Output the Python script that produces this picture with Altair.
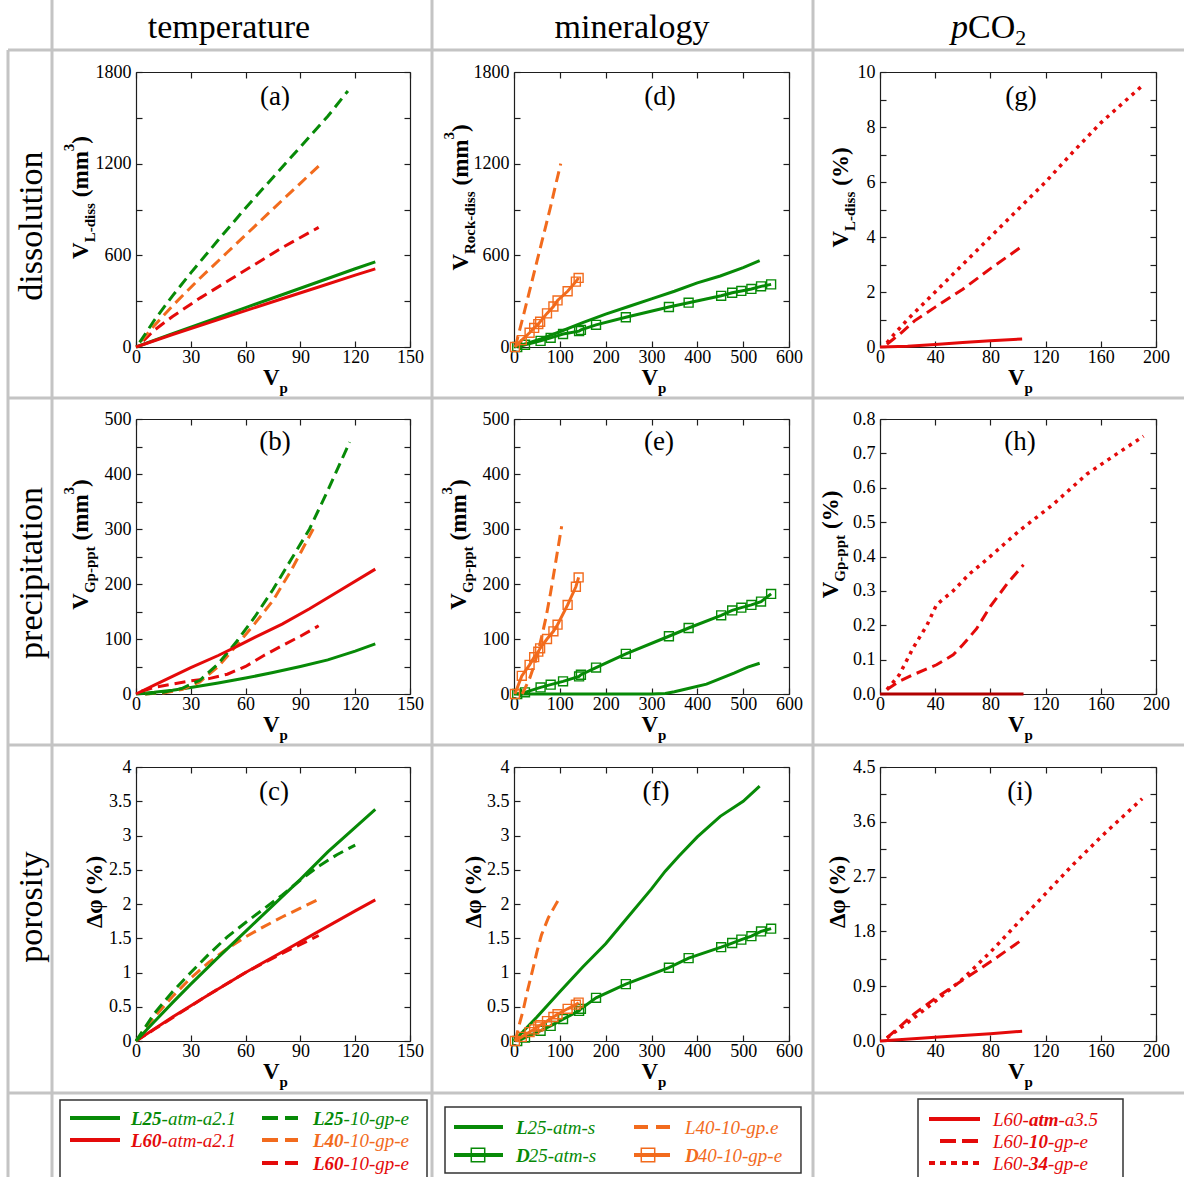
import altair as alt
import pandas as pd

W, H = 1184, 1177
FONT = "Liberation Serif"
GREEN = "#078a07"
ORANGE = "#f26b1d"
RED = "#e40a0a"
GRID = "#c4c4c4"
FRAME = "#1e1e1e"

# ---------------- data: temperature column ----------------
A_L25ATM_X = [0, 20, 40, 60, 80, 100, 120, 131]
A_L25ATM_Y = [0, 88, 173, 258, 342, 427, 512, 557]
A_L60ATM_X = [0, 20, 40, 60, 80, 100, 120, 131]
A_L60ATM_Y = [0, 82, 160, 238, 316, 393, 470, 511]
A_L25GP_X = [2, 10, 20, 30, 45, 60, 75, 90, 105, 116]
A_L25GP_Y = [30, 175, 335, 485, 700, 910, 1110, 1310, 1510, 1676]
A_L40GP_X = [3, 10, 20, 35, 50, 65, 80, 100]
A_L40GP_Y = [40, 140, 270, 450, 620, 790, 960, 1184]
A_L60GP_X = [4, 10, 20, 35, 50, 65, 80, 100]
A_L60GP_Y = [40, 110, 200, 320, 430, 540, 650, 783]

B_L25ATM_X = [0, 10, 20, 30, 45, 60, 75, 90, 105, 120, 131]
B_L25ATM_Y = [0, 3, 7, 12, 20, 29, 39, 50, 62, 78, 91]
B_L60ATM_X = [0, 10, 20, 30, 45, 55, 65, 80, 95, 110, 131]
B_L60ATM_Y = [0, 16, 32, 48, 70, 86, 103, 127, 155, 185, 227]
B_L25GP_X = [5, 15, 25, 35, 45, 55, 65, 75, 85, 95, 105, 117]
B_L25GP_Y = [0, 3, 10, 25, 55, 95, 140, 190, 245, 300, 370, 458]
B_L40GP_X = [5, 15, 25, 35, 45, 55, 65, 75, 85, 97]
B_L40GP_Y = [0, 2, 8, 22, 50, 88, 128, 170, 225, 300]
B_L60GP_X = [3, 10, 20, 30, 40, 50, 60, 70, 80, 90, 100]
B_L60GP_Y = [5, 12, 18, 24, 28, 36, 50, 70, 88, 105, 124]

C_L25ATM_X = [0, 10, 20, 30, 45, 60, 75, 90, 105, 120, 131]
C_L25ATM_Y = [0, 0.28, 0.56, 0.83, 1.22, 1.6, 1.98, 2.36, 2.76, 3.12, 3.38]
C_L60ATM_X = [0, 20, 40, 60, 80, 100, 120, 131]
C_L60ATM_Y = [0, 0.35, 0.68, 1.0, 1.3, 1.6, 1.9, 2.06]
C_L25GP_X = [0, 5, 10, 20, 30, 40, 50, 60, 70, 80, 90, 100, 110, 120]
C_L25GP_Y = [0, 0.2, 0.4, 0.72, 1.0, 1.27, 1.52, 1.73, 1.93, 2.13, 2.35, 2.55, 2.72, 2.86]
C_L40GP_X = [0, 5, 10, 20, 30, 40, 50, 60, 70, 80, 90, 100]
C_L40GP_Y = [0, 0.18, 0.35, 0.65, 0.92, 1.15, 1.35, 1.52, 1.67, 1.81, 1.94, 2.07]
C_L60GP_X = [0, 10, 20, 40, 60, 80, 100]
C_L60GP_Y = [0, 0.17, 0.34, 0.68, 1.0, 1.28, 1.54]

# ---------------- data: mineralogy column ----------------
D25_X = [7, 24, 58, 80, 107, 142, 146, 179, 244, 338, 381, 452, 476, 496, 518, 539, 561]
D40_X = [2, 17, 34, 44, 53, 57, 72, 86, 95, 117, 135, 141]
D_D25_Y = [0, 15, 40, 60, 85, 104, 112, 145, 195, 262, 290, 335, 355, 367, 380, 397, 410]
D_D40_Y = [0, 45, 93, 125, 150, 165, 220, 265, 305, 365, 428, 452]
D_L25_X = [0, 30, 60, 100, 150, 200, 250, 300, 350, 400, 450, 500, 536]
D_L25_Y = [0, 25, 55, 100, 160, 215, 265, 315, 365, 420, 465, 520, 565]
D_L40_X = [3, 10, 20, 30, 40, 50, 60, 70, 80, 90, 102]
D_L40_Y = [0, 85, 200, 320, 440, 560, 680, 800, 920, 1050, 1200]

E_D25_Y = [0, 3, 12, 17, 23, 32, 35, 48, 73, 105, 120, 143, 152, 157, 162, 168, 182]
E_D40_Y = [0, 33, 53, 67, 77, 83, 100, 114, 126, 162, 195, 212]
E_L25_X = [0, 100, 200, 300, 330, 350, 380, 420, 450, 480, 510, 536]
E_L25_Y = [0, 0, 0, 0, 1, 4, 10, 18, 28, 38, 49, 56]
E_L40_X = [18, 25, 35, 45, 55, 62, 70, 80, 90, 97, 104]
E_L40_Y = [0, 12, 30, 55, 85, 110, 140, 185, 235, 270, 305]

F_D25_Y = [0, 0.05, 0.15, 0.22, 0.32, 0.44, 0.47, 0.63, 0.83, 1.07, 1.21, 1.37, 1.43, 1.48, 1.53, 1.6, 1.64]
F_D40_Y = [0, 0.06, 0.13, 0.17, 0.21, 0.23, 0.29, 0.35, 0.39, 0.47, 0.53, 0.56]
F_L25_X = [0, 50, 100, 150, 200, 250, 300, 330, 360, 400, 450, 500, 536]
F_L25_Y = [0, 0.35, 0.72, 1.08, 1.42, 1.82, 2.22, 2.48, 2.7, 2.98, 3.28, 3.5, 3.72]
F_L40_X = [3, 10, 20, 30, 40, 50, 60, 75, 90, 102]
F_L40_Y = [0, 0.2, 0.45, 0.75, 1.02, 1.3, 1.55, 1.8, 1.98, 2.12]

# ---------------- data: pCO2 column ----------------
G_ATM_X = [0, 20, 40, 60, 80, 103]
G_ATM_Y = [0, 0.03, 0.09, 0.16, 0.23, 0.29]
G_10_X = [5, 10, 15, 25, 40, 60, 80, 104]
G_10_Y = [0.1, 0.3, 0.5, 0.95, 1.45, 2.1, 2.85, 3.7]
G_34_X = [5, 10, 20, 30, 40, 60, 80, 100, 120, 140, 160, 190]
G_34_Y = [0.15, 0.45, 1.0, 1.5, 2.0, 3.0, 4.0, 5.0, 6.0, 7.1, 8.15, 9.5]

H_ATM_X = [0, 50, 104]
H_ATM_Y = [0, 0, 0]
H_10_X = [5, 14, 24, 41, 53, 60, 70, 80, 92, 104]
H_10_Y = [0.013, 0.037, 0.056, 0.085, 0.114, 0.143, 0.19, 0.255, 0.32, 0.376]
H_34_X = [5, 14, 24, 34, 41, 53, 65, 77, 101, 125, 150, 174, 191]
H_34_Y = [0.013, 0.056, 0.134, 0.2, 0.26, 0.3, 0.35, 0.39, 0.475, 0.55, 0.64, 0.705, 0.75]

I_ATM_X = [0, 40, 80, 103]
I_ATM_Y = [0, 0.06, 0.12, 0.16]
I_10_X = [5, 15, 25, 40, 60, 80, 104]
I_10_Y = [0.05, 0.25, 0.45, 0.7, 1.0, 1.3, 1.68]
I_34_X = [5, 20, 40, 60, 80, 100, 120, 140, 160, 190]
I_34_Y = [0.05, 0.3, 0.65, 1.02, 1.46, 1.94, 2.42, 2.9, 3.35, 3.98]

# ---------------- axis tick values ----------------
X150 = [0, 30, 60, 90, 120, 150]
X600 = [0, 100, 200, 300, 400, 500, 600]
X200 = [0, 40, 80, 120, 160, 200]
Y1800_LAB = [0, 600, 1200, 1800]
Y1800_TK = [0, 300, 600, 900, 1200, 1500, 1800]
Y500_LAB = [0, 100, 200, 300, 400, 500]
Y500_TK = [0, 50, 100, 150, 200, 250, 300, 350, 400, 450, 500]
Y4 = [0, 0.5, 1, 1.5, 2, 2.5, 3, 3.5, 4]
Y10_LAB = [0, 2, 4, 6, 8, 10]
Y10_TK = [0, 1, 2, 3, 4, 5, 6, 7, 8, 9, 10]
Y08 = [0, 0.1, 0.2, 0.3, 0.4, 0.5, 0.6, 0.7, 0.8]
Y45_LAB = [0, 0.9, 1.8, 2.7, 3.6, 4.5]
Y45_TK = [0, 0.45, 0.9, 1.35, 1.8, 2.25, 2.7, 3.15, 3.6, 4.05, 4.5]

HEADERS = ["temperature", "mineralogy"]
ROW_LABELS = ["dissolution", "precipitation", "porosity"]

PANELS = [
    dict(key="a", col=1, row=1, xdom=[0, 150], ydom=[0, 1800], xlab=X150, xtk=X150, ylab=Y1800_LAB, ytk=Y1800_TK, yfmt=None,
         series=[(A_L25ATM_X, A_L25ATM_Y, GREEN, "solid", False), (A_L60ATM_X, A_L60ATM_Y, RED, "solid", False),
                 (A_L60GP_X, A_L60GP_Y, RED, "dash", False), (A_L40GP_X, A_L40GP_Y, ORANGE, "dash", False),
                 (A_L25GP_X, A_L25GP_Y, GREEN, "dash", False)]),
    dict(key="b", col=1, row=2, xdom=[0, 150], ydom=[0, 500], xlab=X150, xtk=X150, ylab=Y500_LAB, ytk=Y500_TK, yfmt=None,
         series=[(B_L25ATM_X, B_L25ATM_Y, GREEN, "solid", False), (B_L60GP_X, B_L60GP_Y, RED, "dash", False),
                 (B_L40GP_X, B_L40GP_Y, ORANGE, "dash", False), (B_L25GP_X, B_L25GP_Y, GREEN, "dash", False),
                 (B_L60ATM_X, B_L60ATM_Y, RED, "solid", False)]),
    dict(key="c", col=1, row=3, xdom=[0, 150], ydom=[0, 4], xlab=X150, xtk=X150, ylab=Y4, ytk=Y4, yfmt=None,
         series=[(C_L60ATM_X, C_L60ATM_Y, RED, "solid", False), (C_L60GP_X, C_L60GP_Y, RED, "dash", False),
                 (C_L40GP_X, C_L40GP_Y, ORANGE, "dash", False), (C_L25GP_X, C_L25GP_Y, GREEN, "dash", False),
                 (C_L25ATM_X, C_L25ATM_Y, GREEN, "solid", False)]),
    dict(key="d", col=2, row=1, xdom=[0, 600], ydom=[0, 1800], xlab=X600, xtk=X600, ylab=Y1800_LAB, ytk=Y1800_TK, yfmt=None,
         series=[(D_L25_X, D_L25_Y, GREEN, "solid", False), (D25_X, D_D25_Y, GREEN, "solid", True),
                 (D_L40_X, D_L40_Y, ORANGE, "dash", False), (D40_X, D_D40_Y, ORANGE, "solid", True)]),
    dict(key="e", col=2, row=2, xdom=[0, 600], ydom=[0, 500], xlab=X600, xtk=X600, ylab=Y500_LAB, ytk=Y500_TK, yfmt=None,
         series=[(E_L25_X, E_L25_Y, GREEN, "solid", False), (D25_X, E_D25_Y, GREEN, "solid", True),
                 (E_L40_X, E_L40_Y, ORANGE, "dash", False), (D40_X, E_D40_Y, ORANGE, "solid", True)]),
    dict(key="f", col=2, row=3, xdom=[0, 600], ydom=[0, 4], xlab=X600, xtk=X600, ylab=Y4, ytk=Y4, yfmt=None,
         series=[(F_L25_X, F_L25_Y, GREEN, "solid", False), (D25_X, F_D25_Y, GREEN, "solid", True),
                 (F_L40_X, F_L40_Y, ORANGE, "dash", False), (D40_X, F_D40_Y, ORANGE, "solid", True)]),
    dict(key="g", col=3, row=1, xdom=[0, 200], ydom=[0, 10], xlab=X200, xtk=X200, ylab=Y10_LAB, ytk=Y10_TK, yfmt=None,
         series=[(G_ATM_X, G_ATM_Y, RED, "solid", False), (G_10_X, G_10_Y, RED, "dash", False),
                 (G_34_X, G_34_Y, RED, "dot", False)]),
    dict(key="h", col=3, row=2, xdom=[0, 200], ydom=[0, 0.8], xlab=X200, xtk=X200, ylab=Y08, ytk=Y08, yfmt=".1f",
         series=[(H_ATM_X, H_ATM_Y, "#b00000", "solid", False), (H_10_X, H_10_Y, RED, "dash", False),
                 (H_34_X, H_34_Y, RED, "dot", False)]),
    dict(key="i", col=3, row=3, xdom=[0, 200], ydom=[0, 4.5], xlab=X200, xtk=X200, ylab=Y45_LAB, ytk=Y45_TK, yfmt=".1f",
         series=[(I_ATM_X, I_ATM_Y, RED, "solid", False), (I_10_X, I_10_Y, RED, "dash", False),
                 (I_34_X, I_34_Y, RED, "dot", False)]),
]

# ---------------- layout ----------------
COLS = {1: (136, 410), 2: (514, 789), 3: (880, 1156)}
ROWS = {1: (347, 72), 2: (694, 419), 3: (1041, 767)}

PX = alt.Scale(domain=[0, W], range=[0, W], nice=False, zero=False)
PY = alt.Scale(domain=[0, H], range=[0, H], nice=False, zero=False)


def sx(p):
    return alt.Scale(domain=p["xdom"], range=list(COLS[p["col"]]), nice=False, zero=False)


def sy(p):
    return alt.Scale(domain=p["ydom"], range=list(ROWS[p["row"]]), nice=False, zero=False)


AX = dict(grid=False, title=None, labelFont=FONT, labelFontSize=18, labelColor="black",
          domainColor=FRAME, domainWidth=1.2, tickColor=FRAME, tickWidth=1.2,
          labelFlush=False, labelOverlap=False)
PLAIN = "'' + datum.value"


def fmt(f):
    return dict(format=f) if f else dict(labelExpr=PLAIN)


def carriers(p):
    x0, x1 = COLS[p["col"]]
    yb, yt = ROWS[p["row"]]
    df = pd.DataFrame({"x": [p["xdom"][0]], "y": [p["ydom"][0]]})
    base = alt.Chart(df).mark_point(opacity=0)
    lab = base.encode(
        x=alt.X("x:Q", scale=sx(p), axis=alt.Axis(orient="bottom", offset=yb - H, values=p["xlab"], ticks=False,
                                                   tickSize=0, labelPadding=1, **fmt(None), **AX)),
        y=alt.Y("y:Q", scale=sy(p), axis=alt.Axis(orient="left", offset=-x0, values=p["ylab"], ticks=False,
                                                   tickSize=0, labelPadding=5, **fmt(p["yfmt"]), **AX)))
    tin = base.encode(
        x=alt.X("x:Q", scale=sx(p), axis=alt.Axis(orient="top", offset=-yb, values=p["xtk"], labels=False,
                                                   domain=False, tickSize=6, **AX)),
        y=alt.Y("y:Q", scale=sy(p), axis=alt.Axis(orient="right", offset=x0 - W, values=p["ytk"], labels=False,
                                                   domain=False, tickSize=6, **AX)))
    tout = base.encode(
        x=alt.X("x:Q", scale=sx(p), axis=alt.Axis(orient="bottom", offset=yt - H, values=p["xtk"], labels=False,
                                                   tickSize=6, **AX)),
        y=alt.Y("y:Q", scale=sy(p), axis=alt.Axis(orient="left", offset=-x1, values=p["ytk"], labels=False,
                                                   tickSize=6, **AX)))
    return [lab, tin, tout]


DASH = {"solid": None, "dash": [11, 6], "dot": [3.5, 5]}


def series_layers(p, xs, ys, color, style, markers):
    df = pd.DataFrame({"x": xs, "y": ys})
    enc = dict(x=alt.X("x:Q", scale=sx(p), axis=None), y=alt.Y("y:Q", scale=sy(p), axis=None))
    kw = dict(color=color, strokeWidth=3.5 if style == "dot" else 3)
    if DASH[style]:
        kw["strokeDash"] = DASH[style]
    out = [alt.Chart(df).mark_line(**kw).encode(**enc)]
    if markers:
        out.append(alt.Chart(df).mark_point(shape="square", filled=False, size=80, strokeWidth=1.4,
                                            color=color, opacity=1).encode(**enc))
    return out


# ---------------- text helpers ----------------
WR = {' ': 250, '(': 333, ')': 333, '-': 333, '.': 250, '%': 833, 'a': 444, 'c': 444, 'd': 500, 'e': 444,
      'g': 500, 'i': 278, 'l': 278, 'm': 778, 'n': 500, 'o': 500, 'p': 500, 'r': 333, 's': 389, 't': 278,
      'u': 500, 'y': 500, 'C': 667, 'O': 722, 'L': 611, 'D': 722, 'V': 722}
WI = {' ': 250, '-': 333, '.': 250, 'a': 500, 't': 278, 'm': 722, 'g': 500, 'p': 500, 'e': 444, 's': 389,
      'L': 556, 'D': 722}
WB = {' ': 250, '(': 333, ')': 333, '-': 333, '%': 1000, 'V': 722, 'L': 667, 'R': 722, 'G': 778, 'd': 556,
      'i': 278, 's': 389, 'o': 500, 'c': 444, 'k': 556, 'p': 556, 't': 333, 'm': 833, 'Δ': 612, 'φ': 600}
WBI = {'L': 611, 'D': 667, 'a': 500, 't': 278, 'm': 778, '-': 333}
TABLES = {"R": WR, "I": WI, "B": WB, "BI": WBI}


def tw(s, st, sz):
    tab = TABLES[st]
    return sum(tab.get(ch, 500) for ch in s) * sz / 1000.0


TEXTS = []


def put(x, y, t, st="R", sz=18, color="black", angle=0, align="left", base="alphabetic"):
    TEXTS.append(dict(x=x, y=y, t=t, c=color, st=st, sz=sz, angle=angle, align=align, base=base))


def rich_h(x, y, segs, color="black"):
    for t, st, sz, dy in segs:
        put(x, y + dy, t, st, sz, color)
        x += tw(t, st, sz)


def rich_v_len(segs):
    return sum(tw(t, st, sz) + gap for t, st, sz, dx, gap in segs)


def rich_v(bx, ystart, segs, color="black"):
    y = ystart
    for t, st, sz, dx, gap in segs:
        y -= gap
        put(bx + dx, y, t, st, sz, color, angle=270)
        y -= tw(t, st, sz)


def mm3(sub):
    return [("V", "B", 23, 0, 0), (sub, "B", 15, 7, 0), ("(mm", "B", 23, 0, 6), ("3", "B", 15, -14, 0),
            (")", "B", 23, 0, 0)]


def pct(sub):
    return [("V", "B", 23, 0, 0), (sub, "B", 15, 7, 0), ("(%)", "B", 23, 0, 6)]


DPHI = [("Δφ", "B", 23, 0, 0), ("(%)", "B", 23, 0, 6)]

YTITLES = {"a": (88, mm3("L-diss")), "b": (88, mm3("Gp-ppt")), "c": (102, DPHI),
           "d": (468, mm3("Rock-diss")), "e": (466, mm3("Gp-ppt")), "f": (481, DPHI),
           "g": (848, pct("L-diss")), "h": (838, pct("Gp-ppt")), "i": (845, DPHI)}
LETTER_X = {"a": 275, "b": 275, "c": 274, "d": 660, "e": 659, "f": 656, "g": 1021, "h": 1020, "i": 1020}
LETTER_Y = {1: 105, 2: 450, 3: 800}

# header and row labels
put(229, 38, HEADERS[0], "R", 34, align="center")
put(632, 38, HEADERS[1], "R", 34, align="center")
rich_h(951, 38, [("p", "I", 34, 0), ("CO", "R", 34, 0), ("2", "R", 22, 7)])
for lab, cy in zip(ROW_LABELS, [226, 573, 907]):
    put(42, cy, lab, "R", 34, angle=270, align="center")

for p in PANELS:
    x0, x1 = COLS[p["col"]]
    yb, yt = ROWS[p["row"]]
    cx = (x0 + x1) / 2
    rich_h(cx - 10, yb + 38, [("V", "B", 23, 0), ("p", "B", 15, 8)])
    bx, segs = YTITLES[p["key"]]
    L = rich_v_len(segs)
    rich_v(bx, (yb + yt) / 2 + L / 2 - 12, segs)
    put(LETTER_X[p["key"]], LETTER_Y[p["row"]], "(" + p["key"] + ")", "R", 27, align="center")

# legends text
LEG = 19
rich_h(131, 1125, [("L25", "BI", LEG, 0), ("-atm-a2.1", "I", LEG, 0)], GREEN)
rich_h(131, 1147, [("L60", "BI", LEG, 0), ("-atm-a2.1", "I", LEG, 0)], RED)
rich_h(313, 1125, [("L25", "BI", LEG, 0), ("-10-gp-e", "I", LEG, 0)], GREEN)
rich_h(313, 1147, [("L40", "BI", LEG, 0), ("-10-gp-e", "I", LEG, 0)], ORANGE)
rich_h(313, 1170, [("L60", "BI", LEG, 0), ("-10-gp-e", "I", LEG, 0)], RED)
rich_h(516, 1134, [("L", "BI", LEG, 0), ("25-atm-s", "I", LEG, 0)], GREEN)
rich_h(516, 1162, [("D", "BI", LEG, 0), ("25-atm-s", "I", LEG, 0)], GREEN)
rich_h(685, 1134, [("L40-10-gp.e", "I", LEG, 0)], ORANGE)
rich_h(685, 1162, [("D", "BI", LEG, 0), ("40-10-gp-e", "I", LEG, 0)], ORANGE)
rich_h(993, 1126, [("L60-", "I", LEG, 0), ("atm", "BI", LEG, 0), ("-a3.5", "I", LEG, 0)], RED)
rich_h(993, 1148, [("L60-", "I", LEG, 0), ("10", "BI", LEG, 0), ("-gp-e", "I", LEG, 0)], RED)
rich_h(993, 1170, [("L60-", "I", LEG, 0), ("34", "BI", LEG, 0), ("-gp-e", "I", LEG, 0)], RED)


def text_layers():
    groups = {}
    for r in TEXTS:
        k = (r["st"], r["sz"], r["angle"], r["align"], r["base"])
        groups.setdefault(k, []).append(r)
    out = []
    for (st, sz, ang, al, bs), rows in groups.items():
        df = pd.DataFrame([{"x": r["x"], "y": r["y"], "t": r["t"], "c": r["c"]} for r in rows])
        kw = dict(font=FONT, fontSize=sz, align=al, baseline=bs)
        if "B" in st:
            kw["fontWeight"] = "bold"
        if "I" in st:
            kw["fontStyle"] = "italic"
        if ang:
            kw["angle"] = ang
        out.append(alt.Chart(df).mark_text(**kw).encode(
            x=alt.X("x:Q", scale=PX, axis=None), y=alt.Y("y:Q", scale=PY, axis=None),
            text="t:N", color=alt.Color("c:N", scale=None)))
    return out


def rules(rows, **kw):
    df = pd.DataFrame(rows, columns=["x", "x2", "y", "y2"])
    return alt.Chart(df).mark_rule(**kw).encode(
        x=alt.X("x:Q", scale=PX, axis=None), x2="x2:Q",
        y=alt.Y("y:Q", scale=PY, axis=None), y2="y2:Q")


GRID_LINES = [(8, W, 50, 50), (8, W, 398, 398), (8, W, 745, 745), (8, W, 1093, 1093),
              (52, 52, 0, H), (432, 432, 0, H), (813, 813, 0, H), (8, 8, 50, H)]

layers = [rules(GRID_LINES, color=GRID, strokeWidth=3)]

for p in PANELS:
    layers += carriers(p)
for p in PANELS:
    for s in p["series"]:
        layers += series_layers(p, *s)

# legend boxes
boxes = pd.DataFrame({"x": [60, 445, 918], "x2": [427, 801, 1123], "y": [1100, 1107, 1099], "y2": [1190, 1173, 1190]})
layers.append(alt.Chart(boxes).mark_rect(fillOpacity=0, stroke="#333333", strokeWidth=1.5).encode(
    x=alt.X("x:Q", scale=PX, axis=None), x2="x2:Q", y=alt.Y("y:Q", scale=PY, axis=None), y2="y2:Q"))

# legend samples
layers.append(rules([(70, 120, 1118, 1118)], color=GREEN, strokeWidth=4))
layers.append(rules([(70, 120, 1140, 1140)], color=RED, strokeWidth=4))
layers.append(rules([(262, 298, 1118, 1118)], color=GREEN, strokeWidth=4, strokeDash=[16, 7]))
layers.append(rules([(262, 298, 1140, 1140)], color=ORANGE, strokeWidth=4, strokeDash=[16, 7]))
layers.append(rules([(262, 298, 1163, 1163)], color=RED, strokeWidth=4, strokeDash=[16, 7]))
layers.append(rules([(454, 503, 1127, 1127), (454, 503, 1155, 1155)], color=GREEN, strokeWidth=4))
layers.append(rules([(634, 670, 1127, 1127)], color=ORANGE, strokeWidth=4, strokeDash=[14, 8]))
layers.append(rules([(634, 670, 1155, 1155)], color=ORANGE, strokeWidth=4))
layers.append(rules([(929, 980, 1119, 1119)], color=RED, strokeWidth=4))
layers.append(rules([(940, 978, 1141, 1141)], color=RED, strokeWidth=4, strokeDash=[16, 6]))
layers.append(rules([(929, 980, 1163, 1163)], color=RED, strokeWidth=4, strokeDash=[6, 5]))
legsq = pd.DataFrame({"x": [478, 648], "y": [1155, 1155], "c": [GREEN, ORANGE]})
layers.append(alt.Chart(legsq).mark_point(shape="square", filled=False, size=180, strokeWidth=1.5, opacity=1).encode(
    x=alt.X("x:Q", scale=PX, axis=None), y=alt.Y("y:Q", scale=PY, axis=None), color=alt.Color("c:N", scale=None)))

layers += text_layers()

chart = alt.layer(*layers).resolve_scale(x="independent", y="independent").resolve_axis(
    x="independent", y="independent").properties(
    width=W, height=H, autosize=alt.AutoSizeParams(type="none"), padding=0, background="white"
).configure_view(strokeWidth=0)

chart.save("out.html", embed_options={"renderer": "svg", "actions": False})
